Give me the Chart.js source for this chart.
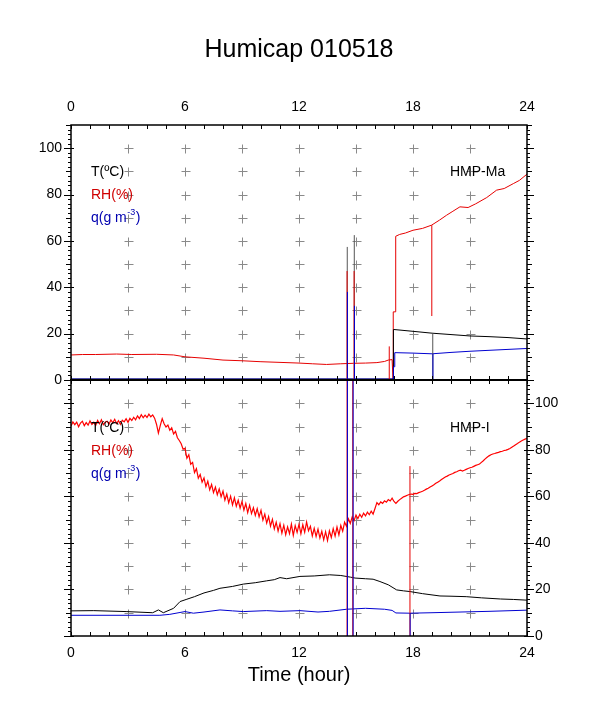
<!DOCTYPE html>
<html>
<head>
<meta charset="utf-8">
<title>Humicap 010518</title>
<script src="https://cdn.jsdelivr.net/npm/chart.js@4.4.1/dist/chart.umd.min.js"></script>
<style>
  html, body { margin: 0; padding: 0; background: #fff; }
  #wrap { position: relative; width: 598px; height: 708px; }
  #wrap canvas { position: absolute; left: 0; top: 0; }
</style>
</head>
<body>
<div id="wrap">
  <canvas id="upper" width="598" height="708"></canvas>
  <canvas id="lower" width="598" height="708"></canvas>
</div>
<script>
// grid crosses ("+") drawn inside both panels
const crossHours = [3, 6, 9, 12, 15, 18, 21];
const crossValues = [10, 20, 30, 40, 50, 60, 70, 80, 90, 100];

// ---- HMP-Ma (upper panel) ----
const maRhHours = [0, 0.6, 1.3, 2.4, 3.2, 4.5, 5.4, 6.0, 7.0, 8.0,
  9.0, 9.95, 11.0, 12.0, 12.7, 13.45, 14.2, 14.86, 15.5, 16.1,
  16.5, 16.7, 16.9, 16.95, 16.96, 17.08, 17.09, 17.3, 17.6, 18.0,
  18.5, 18.98, 19.4, 19.77, 20.1, 20.47, 20.9, 21.3, 21.88, 22.4,
  22.8, 23.3, 23.6, 24];
const maRh = [10.8, 11.0, 11.0, 11.2, 11.0, 11.1, 10.8, 10.0, 9.4, 8.6,
  8.3, 7.9, 7.6, 7.3, 7.0, 6.7, 7.0, 7.2, 7.3, 7.5,
  8.0, 8.6, 8.8, 0, 29.4, 29.4, 62.0, 62.8, 63.4, 64.6,
  65.4, 66.8, 69.0, 71.1, 72.8, 74.7, 74.4, 76.0, 78.7, 81.9,
  82.6, 84.8, 86.1, 88.8];
const maTHours = [0, 16.95, 16.97, 18, 19, 20, 21, 22, 23, 24];
const maT = [0.4, 0.4, 21.8, 21.0, 20.2, 19.6, 19.0, 18.7, 18.3, 17.7];
const maQHours = [0, 16.95, 16.97, 17.02, 17.04, 18, 19, 20, 21, 22, 23, 24];
const maQ = [0.4, 0.4, 5.7, 5.7, 11.8, 11.6, 11.3, 11.9, 12.4, 12.8, 13.2, 13.6];
// spikes: [hour, low, high]
const maSpikesT = [[14.54, -20, 57.4], [14.91, -20, 62.5], [19.04, 0, 20.2]];
const maSpikesRh = [[14.53, -20, 47], [14.90, -20, 47], [16.75, 0, 14.5], [18.99, 27.6, 66.8]];
const maSpikesQ = [[14.55, -20, 38], [14.92, -20, 32], [19.05, 0, 11.3]];

// ---- HMP-I (lower panel) ----
// RH sampled every 0.1 h from 0 to 24
const iRh = [
  90.2, 92.0, 90.8, 91.9, 89.9, 91.5, 92.3, 90.4, 91.7, 90.6,
  92.4, 90.9, 91.8, 90.5, 92.6, 91.2, 92.9, 90.8, 91.9, 92.3,
  91.0, 92.8, 91.6, 93.1, 91.3, 92.5, 90.9, 92.7, 92.0, 93.4,
  91.8, 93.5, 92.6, 94.0, 92.9, 94.6, 93.4, 95.1, 93.8, 94.9,
  93.9, 95.3, 94.2, 95.0, 93.6, 91.0, 87.2, 90.5, 93.4, 91.2,
  89.8, 90.6, 88.4, 89.5, 86.8, 87.9, 85.2, 84.0, 82.6, 80.3,
  80.6, 76.4, 77.9, 73.8, 74.6, 70.2, 71.9, 67.8, 69.4, 66.1,
  67.9, 64.2, 66.5, 62.8, 65.1, 61.6, 64.0, 60.7, 63.2, 59.8,
  62.3, 58.4, 61.0, 57.2, 60.1, 56.3, 59.4, 55.8, 58.3, 54.9,
  57.8, 54.1, 56.9, 53.0, 56.2, 52.6, 55.1, 51.8, 54.7, 51.2,
  54.0, 49.8, 52.4, 48.5, 51.3, 47.2, 50.1, 46.0, 48.9, 45.1,
  48.3, 44.2, 47.6, 43.5, 46.9, 44.0, 48.1, 43.2, 47.4, 44.5,
  48.0, 43.9, 47.8, 44.6, 49.0, 45.2, 47.1, 43.0, 46.3, 42.8,
  45.9, 42.1, 45.0, 41.3, 44.8, 41.0, 45.2, 42.3, 46.1, 42.9,
  46.8, 43.4, 47.5, 45.0, 48.9, 47.2, 50.3, 48.4, 51.2, 49.6,
  52.0, 50.4, 52.3, 51.0, 52.8, 51.6, 53.2, 52.1, 53.6, 52.4,
  54.8, 57.3, 56.4, 57.6, 57.0, 58.1, 57.5, 58.6, 58.0, 59.2,
  57.8, 57.0, 57.9, 58.6, 59.2, 59.8, 60.1, 60.5, 60.8, 61.0,
  60.9, 61.3, 61.2, 61.6, 61.9, 62.2, 62.6, 63.1, 63.5, 64.0,
  64.5, 65.0, 65.6, 66.1, 66.6, 67.2, 67.8, 68.3, 68.7, 69.2,
  69.5, 69.8, 70.3, 70.6, 71.0, 71.3, 70.9, 71.2, 71.6, 72.0,
  72.3, 72.5, 72.9, 73.3, 73.6, 73.9, 74.6, 75.3, 76.1, 76.8,
  77.4, 77.9, 78.2, 78.4, 78.7, 78.9, 79.2, 79.4, 79.7, 79.9,
  80.2, 80.6, 81.1, 81.6, 82.2, 82.7, 83.3, 83.8, 84.2, 84.6,
  85.0];
const iTHours = [0, 1.2, 2.9, 4.3, 4.6, 4.86, 5.4, 5.74, 6.1, 6.5,
  7.0, 7.5, 7.84, 8.5, 9.07, 9.7, 10.3, 10.7, 11.0, 11.35,
  12.05, 12.8, 13.6, 14.2, 14.7, 14.95, 15.5, 15.9, 16.26, 16.7,
  17.14, 17.5, 17.84, 18.5, 19.42, 20.0, 20.8, 21.6, 22.6, 23.3, 24];
const iT = [10.8, 10.9, 10.5, 10.0, 11.2, 10.0, 11.9, 14.8, 15.8, 16.9,
  18.5, 19.6, 20.5, 21.3, 22.3, 22.9, 23.7, 24.2, 25.1, 24.6,
  25.6, 25.8, 26.3, 26.0, 25.3, 24.9, 24.6, 24.4, 23.4, 22.0,
  19.8, 19.4, 19.1, 18.2, 17.2, 17.1, 16.9, 16.4, 15.9, 15.7, 15.4];
const iQHours = [0, 2, 4.68, 5.2, 6.0, 6.44, 7.0, 7.84, 8.5, 9.07,
  10.3, 11.0, 12.05, 13.0, 13.6, 14.5, 15.5, 16.5, 16.9, 17.1,
  17.84, 19.0, 20.0, 22.0, 24];
const iQ = [8.9, 8.9, 8.9, 9.3, 10.5, 9.8, 10.3, 11.2, 10.8, 10.5,
  10.9, 10.6, 10.9, 10.3, 10.6, 11.5, 11.9, 11.5, 11.0, 9.9,
  9.8, 10.0, 10.2, 10.6, 11.1];
const iSpikesRh = [[14.53, -20, 250], [14.83, -20, 250], [17.84, 0, 73]];
const iSpikesQ = [[14.55, -20, 250], [14.85, -20, 250], [17.85, 0, 9.8]];

const FONT = '"Liberation Sans", Arial, Helvetica, sans-serif';
const RED = '#e60000';
const BLUE = '#0000d0';

function pts(hours, vals) {
  return vals.map((v, i) => ({ x: hours[i], y: v }));
}

function spikes(list) {
  const out = [];
  list.forEach(([h, lo, hi]) => {
    out.push({ x: h, y: lo }, { x: h, y: hi }, { x: h, y: null });
  });
  return out;
}

function line(data, color, width) {
  return {
    data, borderColor: color, borderWidth: width || 1,
    pointRadius: 0, fill: false, tension: 0, spanGaps: false, clip: 0
  };
}

// crosses, frame, tick marks and panel texts
const panelDecor = {
  id: 'panelDecor',
  beforeDatasetsDraw(chart) {
    const { ctx, scales: { x, y } } = chart;
    ctx.save();
    ctx.strokeStyle = '#8a8a8a';
    ctx.lineWidth = 1;
    ctx.beginPath();
    crossHours.forEach(h => crossValues.forEach(v => {
      const px = Math.round(x.getPixelForValue(h)) + 0.5;
      const py = Math.round(y.getPixelForValue(v)) + 0.5;
      ctx.moveTo(px - 4, py); ctx.lineTo(px + 5, py);
      ctx.moveTo(px, py - 4); ctx.lineTo(px, py + 5);
    }));
    ctx.stroke();
    ctx.restore();
  },
  afterDatasetsDraw(chart, args, opts) {
    const { ctx, chartArea: a, scales: { x, y } } = chart;
    ctx.save();
    ctx.strokeStyle = '#000';
    ctx.lineWidth = 1;
    ctx.beginPath();
    for (let h = 0; h <= 24; h++) {
      const px = Math.round(x.getPixelForValue(h)) + 0.5;
      ctx.moveTo(px, a.top); ctx.lineTo(px, a.top + 4);
      ctx.moveTo(px, a.bottom); ctx.lineTo(px, a.bottom - 4);
    }
    for (let v = 0; v <= 110; v += 2) {
      const py = Math.round(y.getPixelForValue(v)) + 0.5;
      const out = v % 20 === 0 ? 7 : (v % 10 === 0 ? 5 : 3);
      const inn = v % 20 === 0 ? 3 : 0;
      ctx.moveTo(a.left - out, py); ctx.lineTo(a.left + inn, py);
      ctx.moveTo(a.right + out, py); ctx.lineTo(a.right - inn, py);
    }
    ctx.stroke();

    ctx.lineWidth = 1.5;
    ctx.strokeRect(a.left, a.top, a.right - a.left, a.bottom - a.top);
    ctx.lineWidth = 2.2;
    ctx.beginPath();
    const edge = opts.thickEdge === 'bottom' ? a.bottom : a.top;
    ctx.moveTo(a.left - 1, edge); ctx.lineTo(a.right + 1, edge);
    ctx.stroke();

    ctx.textBaseline = 'middle';
    ctx.textAlign = 'left';
    (opts.labels || []).forEach(l => {
      ctx.fillStyle = l.color;
      ctx.font = '14px ' + FONT;
      ctx.fillText(l.text, l.x, l.y);
      if (l.sup) {
        let cx = l.x + ctx.measureText(l.text).width + 0.5;
        ctx.font = '9px ' + FONT;
        ctx.fillText(l.sup, cx, l.y - 5);
        cx += ctx.measureText(l.sup).width + 0.5;
        ctx.font = '14px ' + FONT;
        ctx.fillText(l.after, cx, l.y);
      }
    });
    if (opts.title) {
      ctx.fillStyle = '#000';
      ctx.textAlign = 'center';
      ctx.font = '25px ' + FONT;
      ctx.fillText(opts.title, 299, 50);
    }
    ctx.restore();
  }
};

const tickFont = { family: FONT, size: 14 };

function xScale(position, extra) {
  return Object.assign({
    type: 'linear', position, min: 0, max: 24,
    ticks: { stepSize: 6, padding: 9, color: '#000', font: tickFont, maxRotation: 0 },
    grid: { display: false, drawTicks: false },
    border: { display: false }
  }, extra);
}

function yScale(position, extra) {
  return Object.assign({
    type: 'linear', position, min: 0, max: 110,
    ticks: {
      stepSize: 20, padding: 9, color: '#000', font: tickFont,
      callback: v => (v % 20 === 0 ? v : '')
    },
    grid: { display: false, drawTicks: false },
    border: { display: false },
    afterFit: s => { s.width = 71; }
  }, extra);
}

new Chart(document.getElementById('upper'), {
  type: 'line',
  data: {
    datasets: [
      line(spikes(maSpikesQ), BLUE),
      line(spikes(maSpikesRh), RED),
      line(spikes(maSpikesT), '#555'),
      line(pts(maQHours, maQ), BLUE),
      line(pts(maTHours, maT), '#000'),
      line(pts(maRhHours, maRh), RED)
    ]
  },
  options: {
    responsive: false, animation: false, devicePixelRatio: 1, events: [],
    layout: { padding: { top: 95, right: 71, bottom: 328, left: 0 } },
    plugins: {
      legend: { display: false },
      tooltip: { enabled: false },
      panelDecor: {
        thickEdge: 'bottom',
        title: 'Humicap 010518',
        labels: [
          { text: 'T(ºC)', color: '#000', x: 91, y: 172 },
          { text: 'RH(%)', color: '#d00000', x: 91, y: 195 },
          { text: 'q(g m', sup: '-3', after: ')', color: '#0000b0', x: 91, y: 218 },
          { text: 'HMP-Ma', color: '#000', x: 450, y: 172 }
        ]
      }
    },
    scales: {
      x: xScale('top', { afterFit: s => { s.height = 30; } }),
      y: yScale('left')
    }
  },
  plugins: [panelDecor]
});

new Chart(document.getElementById('lower'), {
  type: 'line',
  data: {
    datasets: [
      line(spikes(iSpikesQ), BLUE),
      line(spikes(iSpikesRh), RED),
      line(pts(iQHours, iQ), BLUE),
      line(pts(iTHours, iT), '#000'),
      line(pts(iRh.map((v, i) => i / 10), iRh), '#ff0000', 1.2)
    ]
  },
  options: {
    responsive: false, animation: false, devicePixelRatio: 1, events: [],
    layout: { padding: { top: 380, right: 0, bottom: 0, left: 71 } },
    plugins: {
      legend: { display: false },
      tooltip: { enabled: false },
      panelDecor: {
        thickEdge: 'top',
        labels: [
          { text: 'T(ºC)', color: '#000', x: 91, y: 428 },
          { text: 'RH(%)', color: '#d00000', x: 91, y: 451 },
          { text: 'q(g m', sup: '-3', after: ')', color: '#0000b0', x: 91, y: 474 },
          { text: 'HMP-I', color: '#000', x: 450, y: 428 }
        ]
      }
    },
    scales: {
      x: xScale('bottom', {
        title: {
          display: true, text: 'Time (hour)', color: '#000',
          font: { family: FONT, size: 20 }, padding: { top: 0, bottom: 21 }
        },
        afterFit: s => { s.height = 72; }
      }),
      y: yScale('right', { ticks: {
        stepSize: 20, padding: 8, color: '#000', font: tickFont,
        callback: v => (v % 20 === 0 ? v : '')
      } })
    }
  },
  plugins: [panelDecor]
});
</script>
</body>
</html>
